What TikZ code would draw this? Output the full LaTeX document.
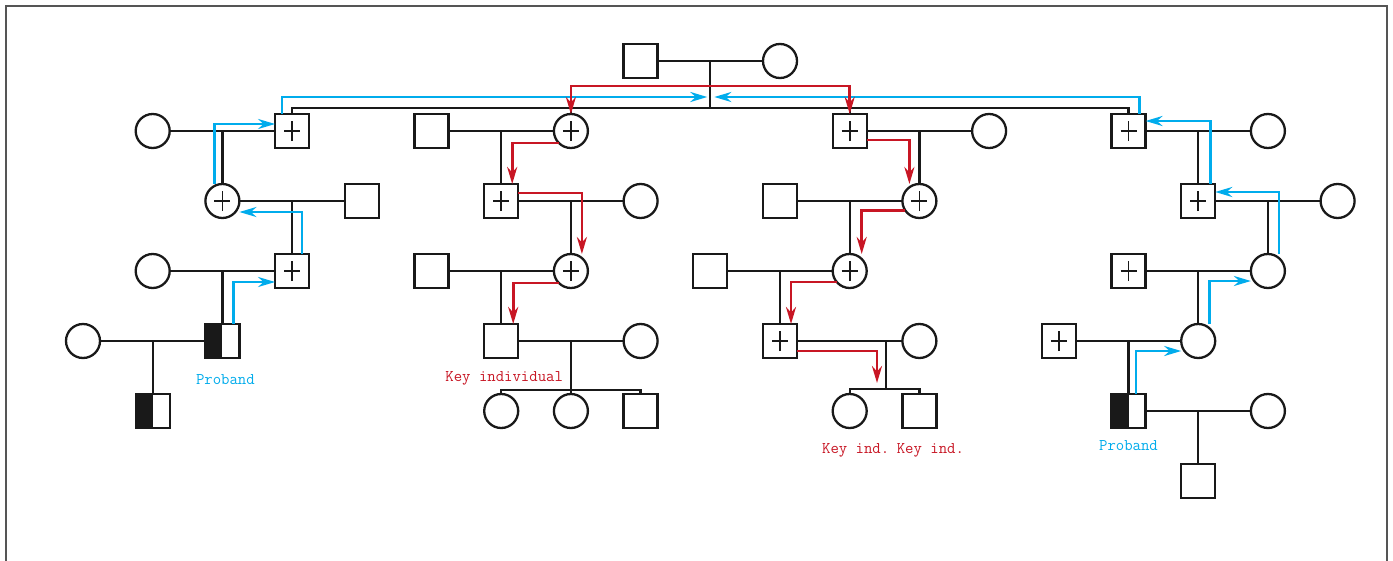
\documentclass[tikz,border=0pt]{standalone}
\usepackage{fontspec}
\usepackage{tikz}
\usetikzlibrary{arrows.meta, calc, positioning}
\definecolor{probandcyan}{RGB}{0,172,236}
\definecolor{keyred}{RGB}{200,22,36}
\definecolor{framegray}{RGB}{85,85,85}

\begin{document}
\begin{tikzpicture}[
		x=1pt, y=-1pt,
		on grid, node distance=70pt and 69.7pt,
		>={Stealth[length=17pt, width=10pt]},
		kinline/.style = {draw=black!90, line width=2.3pt},
		person/.style = {draw=black!90, line width=2.3pt, fill=white, minimum size=34pt, inner sep=0pt, outer sep=0pt},
		male/.style = {person, rectangle},
		female/.style = {person, circle},
		carrier/.style = {path picture={\draw[line width=1.8pt] ([xshift=-8pt]path picture bounding box.center) -- ([xshift=8pt]path picture bounding box.center) ([yshift=-10pt]path picture bounding box.center) -- ([yshift=10pt]path picture bounding box.center);}},
		affected/.style = {path picture={\fill[black!90] (path picture bounding box.south west) rectangle (path picture bounding box.north);}},
		probandline/.style = {draw=probandcyan, line width=2.6pt, ->},
		keyline/.style = {draw=keyred, line width=2.6pt, ->},
		probandtext/.style = {text=probandcyan, font=\ttfamily\fontsize{16.3}{19}\selectfont, inner sep=0pt},
		keytext/.style = {text=keyred, font=\ttfamily\fontsize{16.3}{19}\selectfont, inner sep=0pt},
		frameline/.style = {draw=framegray, line width=1.8pt}
		]
		\path[use as bounding box, fill=white] (0,0) rectangle (1393,560);
		\draw[frameline] (6,570) -- (6,6) -- (1387,6) -- (1387,570);
		
		\node [male] (I1) at (640.6,61) {};
		\node [female, right=139.4pt of I1] (I2) {};
		\coordinate (sib) at (710.3,108);
		
		\node [male, carrier] (II1) at (292.1,131) {};
		\node [female, left=139.4pt of II1] (II2) {};
		\node [female, carrier] (II3) at (570.9,131) {};
		\node [male, left=139.4pt of II3] (II4) {};
		\node [male, carrier] (II5) at (849.7,131) {};
		\node [female, right=139.4pt of II5] (II6) {};
		\node [male, carrier] (II7) at (1128.5,131) {};
		\node [female, right=139.4pt of II7] (II8) {};
		
		\node [female, carrier, below left=of II1] (a3) {};
		\node [male, right=139.4pt of a3] (a3s) {};
		\node [male, carrier, below right=of a3] (a4) {};
		\node [female, left=139.4pt of a4] (a4s) {};
		\node [male, affected, below left=of a4, label={[probandtext, xshift=3pt, yshift=-16pt]below:Proband}] (a5) {};
		\node [female, left=139.4pt of a5] (a5s) {};
		\node [male, affected, below left=of a5] (a6) {};
		
		\node [male, carrier, below left=of II3] (b3) {};
		\node [female, right=139.4pt of b3] (b3s) {};
		\node [female, carrier, below right=of b3] (b4) {};
		\node [male, left=139.4pt of b4] (b4s) {};
		\node [male, below left=of b4, label={[keytext, xshift=3pt, yshift=-13pt]below:Key individual}] (b5) {};
		\node [female, right=139.4pt of b5] (b5s) {};
		\node [female, below=of b5] (b6a) {};
		\node [female, below right=of b5] (b6b) {};
		\node [male, below=of b5s] (b6c) {};
		\coordinate (bsib) at ($(b6b)+(0,-21)$);
		
		\node [female, carrier, below right=of II5] (c3) {};
		\node [male, left=139.4pt of c3] (c3s) {};
		\node [female, carrier, below left=of c3] (c4) {};
		\node [male, left=139.4pt of c4] (c4s) {};
		\node [male, carrier, below left=of c4] (c5) {};
		\node [female, right=139.4pt of c5] (c5s) {};
		\node [female, below right=of c5, label={[keytext, xshift=6pt, yshift=-15pt]below:Key ind.}] (c6a) {};
		\node [male, below=of c5s, label={[keytext, xshift=11pt, yshift=-15pt]below:Key ind.}] (c6b) {};
		\coordinate (csib) at ($(c6a)+(36.3,-22)$);
		
		\node [male, carrier, below right=of II7] (d3) {};
		\node [female, right=139.4pt of d3] (d3s) {};
		\node [female, below right=of d3] (d4) {};
		\node [male, carrier, left=139.4pt of d4] (d4s) {};
		\node [female, below left=of d4] (d5) {};
		\node [male, carrier, left=139.4pt of d5] (d5s) {};
		\node [male, affected, below left=of d5, label={[probandtext, yshift=-12pt]below:Proband}] (d6) {};
		\node [female, right=139.4pt of d6] (d6s) {};
		\node [male, below right=of d6] (d7) {};
		
		\draw[kinline] (I1) -- (I2);
		\draw[kinline] ($(I1)!0.5!(I2)$) -- (sib);
		\draw[kinline] (II1) |- (sib) -| (II7);
		\draw[kinline] (II3) -- (II3 |- sib);
		\draw[kinline] (II5) -- (II5 |- sib);
		
		\draw[kinline] (II2) -- (II1);
		\draw[kinline] (a3) -- (a3 |- II1);
		\draw[kinline] (a3) -- (a3s);
		\draw[kinline] (a4) -- (a4 |- a3);
		\draw[kinline] (a4s) -- (a4);
		\draw[kinline] (a5) -- (a5 |- a4);
		\draw[kinline] (a5s) -- (a5);
		\draw[kinline] (a6) -- (a6 |- a5);
		
		\draw[kinline] (II4) -- (II3);
		\draw[kinline] (b3) -- (b3 |- II3);
		\draw[kinline] (b3) -- (b3s);
		\draw[kinline] (b4) -- (b4 |- b3);
		\draw[kinline] (b4s) -- (b4);
		\draw[kinline] (b5) -- (b5 |- b4);
		\draw[kinline] (b5) -- (b5s);
		\draw[kinline] (b6b |- b5) -- (b6b);
		\draw[kinline] (b6a) |- (bsib) -| (b6c);
		
		\draw[kinline] (II5) -- (II6);
		\draw[kinline] (c3) -- (c3 |- II5);
		\draw[kinline] (c3s) -- (c3);
		\draw[kinline] (c4) -- (c4 |- c3);
		\draw[kinline] (c4s) -- (c4);
		\draw[kinline] (c5) -- (c5 |- c4);
		\draw[kinline] (c5) -- (c5s);
		\draw[kinline] (csib) -- (csib |- c5);
		\draw[kinline] (c6a) |- (csib) -| (c6b);
		
		\draw[kinline] (II7) -- (II8);
		\draw[kinline] (d3) -- (d3 |- II7);
		\draw[kinline] (d3) -- (d3s);
		\draw[kinline] (d4) -- (d4 |- d3);
		\draw[kinline] (d4s) -- (d4);
		\draw[kinline] (d5) -- (d5 |- d4);
		\draw[kinline] (d5s) -- (d5);
		\draw[kinline] (d6) -- (d6 |- d5);
		\draw[kinline] (d6) -- (d6s);
		\draw[kinline] (d7) -- (d7 |- d6);
		
		\draw[probandline] ([xshift=11pt]a5.north) |- ([yshift=-11pt]a4.west);
		\draw[probandline] ([xshift=10pt]a4.north) |- ([yshift=-11pt]a3.east);
		\draw[probandline] ([xshift=-8pt]a3.north) |- ([yshift=7pt]II1.west);
		\draw[probandline] ([xshift=-10pt]II1.north) |- ([xshift=-3pt, yshift=11pt]sib);
		
		\draw[probandline] ([xshift=7.5pt]d6.north) |- ([yshift=-10pt]d5.west);
		\draw[probandline] ([xshift=11pt]d5.north) |- ([yshift=-10pt]d4.west);
		\draw[probandline] ([xshift=11pt]d4.north) |- ([yshift=9pt]d3.east);
		\draw[probandline] ([xshift=12pt]d3.north) |- ([yshift=10pt]II7.east);
		\draw[probandline] ([xshift=11pt]II7.north) |- ([xshift=4pt, yshift=11pt]sib);
		
		\draw[keyline, <->] (II3.north) |- ([yshift=22pt]sib) -| (II5.north);
		\draw[keyline] (II3.225) -| ([xshift=11pt]b3.north);
		\draw[keyline] ([yshift=8pt]b3.east) -| ([xshift=11pt]b4.north);
		\draw[keyline] (b4.225) -| ([xshift=12pt]b5.north);
		
		\draw[keyline] ([yshift=-9pt]II5.east) -| ([xshift=-10pt]c3.north);
		\draw[keyline] (c3.215) -| ([xshift=12pt]c4.north);
		\draw[keyline] (c4.220) -| ([xshift=11pt]c5.north);
		\draw[keyline] ([yshift=-10pt]c5.east) -| ([xshift=-9pt, yshift=6pt]csib);
		
		\end{tikzpicture}
\end{document}
